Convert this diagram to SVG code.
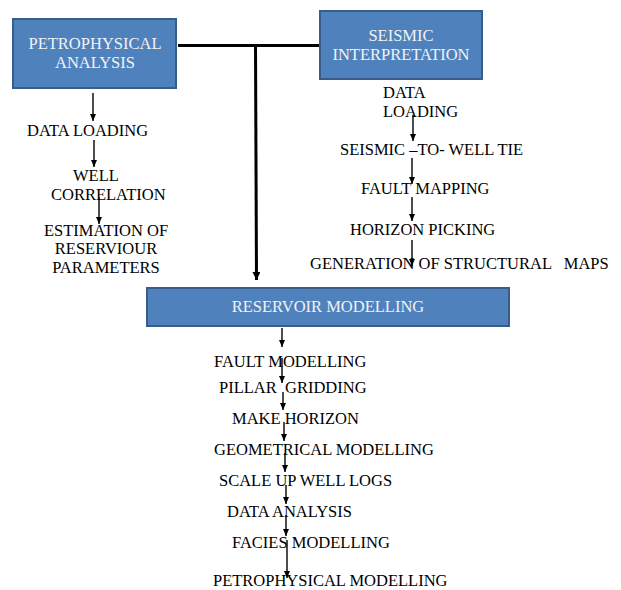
<svg xmlns="http://www.w3.org/2000/svg" width="621" height="590" viewBox="0 0 621 590" font-family="'Liberation Serif', 'Times New Roman', serif">
<style>
.box{fill:#4F81BD;stroke:#385D8A;stroke-width:2}
.bt{font-size:16.5px;fill:#F2F2F2}
.t{font-size:16.5px;fill:#000}
.a{stroke:#000;stroke-width:1.4;fill:none}
.th{stroke:#000;stroke-width:3;fill:none}
</style>
<defs>
<marker id="ah" markerWidth="7" markerHeight="6" refX="7" refY="3" orient="auto" markerUnits="userSpaceOnUse">
<path d="M0,0 L7,3 L0,6 z" fill="#000"/>
</marker>
<marker id="ahb" markerWidth="8" markerHeight="8" refX="8" refY="4" orient="auto" markerUnits="userSpaceOnUse">
<path d="M0,0 L8,4 L0,8 z" fill="#000"/>
</marker>
</defs>
<rect width="621" height="590" fill="#fff"/>
<g id="connectors">
<line class="th" x1="178" y1="45.5" x2="320" y2="45.5"/>
<line class="th" x1="255.5" y1="45.5" x2="256.5" y2="280" marker-end="url(#ahb)"/>
<line class="a" x1="93" y1="93" x2="93" y2="121" marker-end="url(#ah)"/>
<line class="a" x1="94" y1="140" x2="94" y2="167" marker-end="url(#ah)"/>
<line class="a" x1="99" y1="197" x2="99" y2="224" marker-end="url(#ah)"/>
<line class="a" x1="413" y1="115" x2="413" y2="141" marker-end="url(#ah)"/>
<line class="a" x1="412" y1="158" x2="412" y2="184" marker-end="url(#ah)"/>
<line class="a" x1="412" y1="197" x2="412" y2="221" marker-end="url(#ah)"/>
<line class="a" x1="412" y1="240" x2="412" y2="266" marker-end="url(#ah)"/>
<line class="a" x1="282" y1="328" x2="282" y2="347" marker-end="url(#ah)"/>
<line class="a" x1="282" y1="358" x2="282" y2="383" marker-end="url(#ah)"/>
<line class="a" x1="283" y1="392" x2="283" y2="410" marker-end="url(#ah)"/>
<line class="a" x1="284" y1="422" x2="284" y2="441" marker-end="url(#ah)"/>
<line class="a" x1="285" y1="453" x2="285" y2="472" marker-end="url(#ah)"/>
<line class="a" x1="286" y1="485" x2="286" y2="504" marker-end="url(#ah)"/>
<line class="a" x1="286" y1="515" x2="286" y2="536" marker-end="url(#ah)"/>
<line class="a" x1="287" y1="540" x2="287" y2="578" marker-end="url(#ah)"/>
</g>
<g id="petrophysical-analysis">
<rect class="box" x="13" y="19" width="163" height="69"/>
<text class="bt" x="95" y="49" text-anchor="middle">PETROPHYSICAL</text>
<text class="bt" x="95" y="67.5" text-anchor="middle">ANALYSIS</text>
</g>
<g id="seismic-interpretation">
<rect class="box" x="320" y="11" width="162" height="68"/>
<text class="bt" x="401" y="41" text-anchor="middle">SEISMIC</text>
<text class="bt" x="401" y="59.5" text-anchor="middle">INTERPRETATION</text>
</g>
<g id="reservoir-modelling">
<rect class="box" x="147" y="288" width="362" height="38"/>
<text class="bt" x="328" y="312" text-anchor="middle">RESERVOIR MODELLING</text>
</g>
<g id="petro-steps">
<text class="t" x="27" y="136">DATA LOADING</text>
<text class="t" x="73" y="181">WELL</text>
<text class="t" x="51" y="199.5">CORRELATION</text>
<text class="t" x="106" y="235.5" text-anchor="middle">ESTIMATION OF</text>
<text class="t" x="106" y="254" text-anchor="middle">RESERVIOUR</text>
<text class="t" x="106" y="272.5" text-anchor="middle">PARAMETERS</text>
</g>
<g id="seismic-steps">
<text class="t" x="383" y="98">DATA</text>
<text class="t" x="383" y="116.5">LOADING</text>
<text class="t" x="340" y="155">SEISMIC –TO- WELL TIE</text>
<text class="t" x="361" y="194">FAULT MAPPING</text>
<text class="t" x="350" y="235">HORIZON PICKING</text>
<text class="t" x="310" y="269" xml:space="preserve">GENERATION OF STRUCTURAL   MAPS</text>
</g>
<g id="reservoir-steps">
<text class="t" x="214" y="367">FAULT MODELLING</text>
<text class="t" x="219" y="393" xml:space="preserve">PILLAR  GRIDDING</text>
<text class="t" x="232" y="424">MAKE HORIZON</text>
<text class="t" x="214" y="455">GEOMETRICAL MODELLING</text>
<text class="t" x="219" y="486">SCALE UP WELL LOGS</text>
<text class="t" x="227" y="517">DATA ANALYSIS</text>
<text class="t" x="232" y="548">FACIES MODELLING</text>
<text class="t" x="213" y="586">PETROPHYSICAL MODELLING</text>
</g>
</svg>
